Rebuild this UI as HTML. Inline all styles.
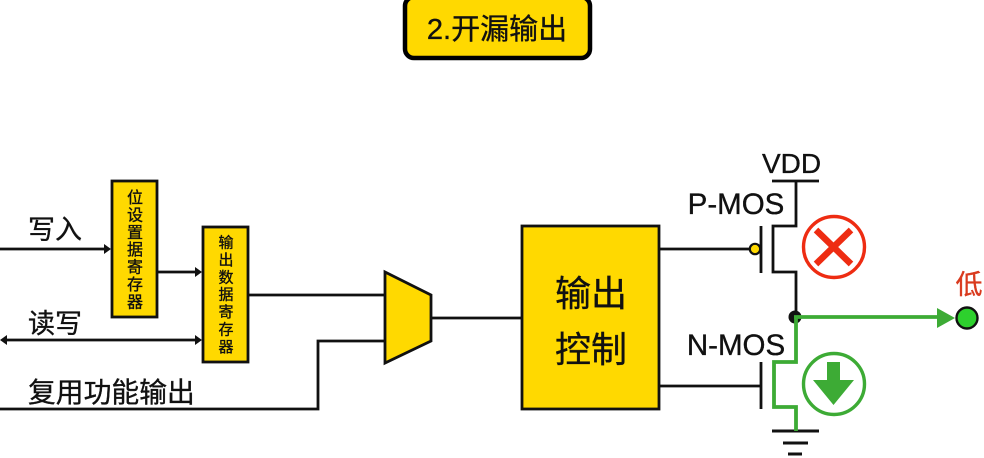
<!DOCTYPE html>
<html><head><meta charset="utf-8"><style>
html,body{margin:0;padding:0;background:#fff}
svg{display:block;filter:blur(.35px)}
text{font-family:"Liberation Sans","Noto Sans CJK SC",sans-serif;fill:#111;stroke:#111;stroke-width:.35px}
</style></head><body>
<svg width="984" height="458" viewBox="0 0 984 458" xmlns="http://www.w3.org/2000/svg">
<rect x="405" y="-3" width="185" height="61" rx="9" fill="#ffd900" stroke="#000" stroke-width="4.5"/>
<text x="497" y="39" font-size="29" text-anchor="middle">2.开漏输出</text>

<g fill="none" stroke="#111" stroke-width="2.8">
<path d="M0 249H104M158 272H196M6 340H196M249 295H385M0 409H318V341H385M431 318H522M659 249H749M659 386H761"/>
</g>
<g fill="#111">
<path d="M111 249l-7-5v10zM202 272l-7-5v10zM202 340l-7-5v10zM0 340l7-5v10z"/>
</g>

<text x="28" y="239" font-size="27">写入</text>
<text x="28" y="333" font-size="27">读写</text>
<text x="28" y="402" font-size="27.800">复用功能输出</text>

<rect x="112" y="181" width="45" height="136" fill="#ffd900" stroke="#111" stroke-width="2.8"/>
<g font-size="16" text-anchor="middle">
<text x="135" y="203">位</text><text x="135" y="220.400">设</text><text x="135" y="237.800">置</text><text x="135" y="255.200">据</text><text x="135" y="272.600">寄</text><text x="135" y="290">存</text><text x="135" y="307.400">器</text>
</g>
<rect x="203" y="227" width="45" height="135" fill="#ffd900" stroke="#111" stroke-width="2.8"/>
<g font-size="15" text-anchor="middle">
<text x="226" y="247.500">输</text><text x="226" y="264.900">出</text><text x="226" y="282.300">数</text><text x="226" y="299.700">据</text><text x="226" y="317.100">寄</text><text x="226" y="334.500">存</text><text x="226" y="351.900">器</text>
</g>

<path d="M385 272L431 295V341L385 363Z" fill="#ffd900" stroke="#111" stroke-width="2.8" stroke-linejoin="miter"/>

<rect x="522" y="226" width="137" height="183" fill="#ffd900" stroke="#111" stroke-width="2.8"/>
<text x="591" y="306" font-size="36" text-anchor="middle">输出</text>
<text x="591" y="362" font-size="36" text-anchor="middle">控制</text>

<text x="791.500" y="173" font-size="28" text-anchor="middle">VDD</text>
<text x="736" y="214" font-size="29.500" text-anchor="middle">P-MOS</text>
<text x="736" y="355" font-size="29.500" text-anchor="middle">N-MOS</text>
<text x="969" y="294" font-size="27" text-anchor="middle" style="fill:#d93a1e;stroke:#d93a1e">低</text>

<g fill="none" stroke="#111" stroke-width="2.8">
<path d="M772 181H819M796 181V226H773V272H796V317"/>
<path d="M761 226V273M761 362V409"/>
<path d="M772 431H819" stroke-width="3"/>
<path d="M783 443H808M788 454H802" stroke-width="3"/>
</g>
<circle cx="755" cy="249" r="5.2" fill="#ffd900" stroke="#111" stroke-width="2.2"/>

<circle cx="834" cy="247" r="30.500" fill="none" stroke="#ee2c12" stroke-width="3.4"/>
<path d="M816 264L851 230M816 230L851 264" stroke="#ee2c12" stroke-width="6.5" fill="none"/>

<circle cx="795" cy="317" r="6.500" fill="#111"/>
<g fill="none" stroke="#3dab35" stroke-width="3.8">
<path d="M794 317H940"/>
<path d="M796 317V362H774V407H796V431"/>
</g>
<path d="M955 318L937 308V328Z" fill="#3dab35"/>
<circle cx="967" cy="318" r="10.500" fill="#2dd02d" stroke="#111" stroke-width="2.4"/>

<circle cx="834" cy="384" r="30.500" fill="none" stroke="#3dab35" stroke-width="3.4"/>
<path d="M827 362H840V380H854L833.500 405L813 380H827Z" fill="#3dab35"/>
</svg>
</body></html>
